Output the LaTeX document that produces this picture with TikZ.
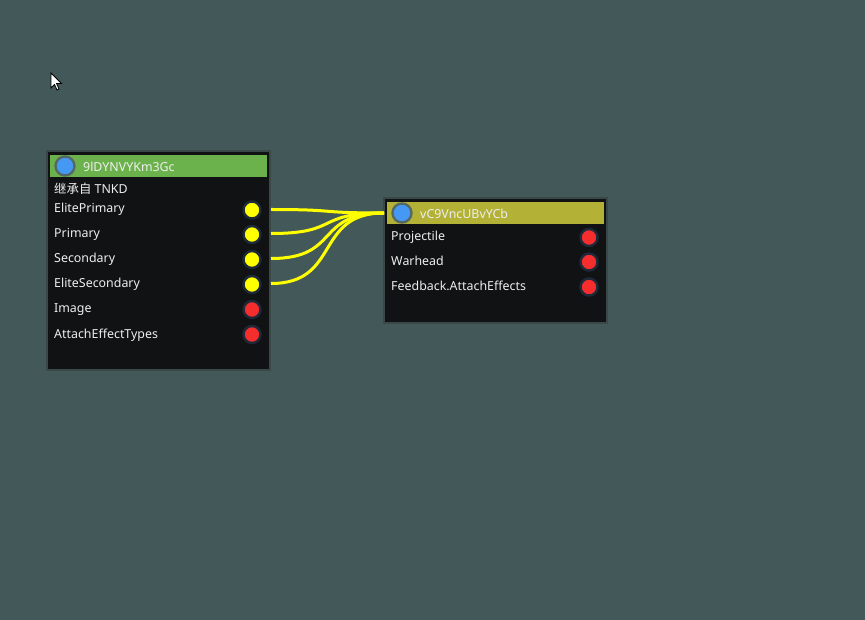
\documentclass[tikz,border=0pt]{standalone}
\usepackage{fontspec}
\setmainfont{Noto Sans}
\newfontfamily\cjk{Noto Sans CJK SC}
\definecolor{bgc}{RGB}{67,89,89}
\definecolor{bodyc}{RGB}{17,18,20}
\definecolor{borderc}{RGB}{58,72,72}
\definecolor{greenh}{RGB}{108,178,76}
\definecolor{oliveh}{RGB}{179,178,54}
\definecolor{bluec}{RGB}{70,152,245}
\definecolor{ringc}{RGB}{84,104,100}
\definecolor{portring}{RGB}{30,42,58}
\definecolor{yellowp}{RGB}{255,255,0}
\definecolor{redp}{RGB}{245,45,45}
\definecolor{txtc}{RGB}{238,238,238}
\tikzset{
  nodebody/.style={fill=bodyc,draw=borderc,line width=2pt},
  lbl/.style={anchor=base west,inner sep=0pt,text=txtc,font=\fontsize{12.4}{14}\selectfont},
  yport/.style={circle,fill=yellowp,draw=portring,line width=2.4pt,minimum size=17pt,inner sep=0pt},
  rport/.style={circle,fill=redp,draw=portring,line width=2.4pt,minimum size=17pt,inner sep=0pt},
  bport/.style={circle,fill=bluec,draw=ringc,line width=2.4pt,minimum size=19pt,inner sep=0pt},
  wire/.style={draw=yellowp,line width=3pt},
}
\begin{document}
\begin{tikzpicture}[x=1pt,y=-1pt]
\useasboundingbox (0,0) rectangle (865,620);
\fill[bgc] (0,0) rectangle (865,620);
% cursor
\draw[fill=white,draw=black,line width=0.8pt,line join=miter]
  (51,73) -- (51,88) -- (54.5,84.5) -- (57,90) -- (59,89) -- (56.5,83.5) -- (61.5,83.5) -- cycle;
% node 1
\path[nodebody] (47,151) rectangle (270,370);
\fill[greenh] (50,155) rectangle (267,177);
\node[bport] (b1) at (65,166) {};
\node[lbl] (t1) at (83,171.5) {9lDYNVYKm3Gc};
\node[lbl] (inh) at (54,193.5) {{\cjk 继承自} TNKD};
\node[lbl] (l1) at (54,213) {ElitePrimary};
\node[lbl] (l2) at (54,238) {Primary};
\node[lbl] (l3) at (54,263) {Secondary};
\node[lbl] (l4) at (54,288) {EliteSecondary};
\node[lbl] (l5) at (54,313) {Image};
\node[lbl] (l6) at (54,338) {AttachEffectTypes};
\node[yport] (p1) at (252,210) {};
\node[yport] (p2) at (252,234.5) {};
\node[yport] (p3) at (252,259.5) {};
\node[yport] (p4) at (252,284.5) {};
\node[rport] (p5) at (252,309.5) {};
\node[rport] (p6) at (252,334.5) {};
% node 2
\path[nodebody] (384,198) rectangle (607,323);
\fill[oliveh] (387,202) rectangle (604,224);
\node[bport] (b2) at (402,213) {};
\node[lbl] (t2) at (420,218.5) {vC9VncUBvYCb};
\node[lbl] (m1) at (391,241) {Projectile};
\node[lbl] (m2) at (391,266) {Warhead};
\node[lbl] (m3) at (391,291) {Feedback.AttachEffects};
\node[rport] (q1) at (589,237.5) {};
\node[rport] (q2) at (589,262) {};
\node[rport] (q3) at (589,287) {};
% wires
\coordinate (s1) at (271,209.5);
\coordinate (s2) at (271,233.5);
\coordinate (s3) at (271,258.5);
\coordinate (s4) at (271,283.5);
\coordinate (e) at (384,213);
\draw[wire] (s1) .. controls +(70,0) and +(-70,0) .. (e);
\draw[wire] (s2) .. controls +(70,0) and +(-70,0) .. (e);
\draw[wire] (s3) .. controls +(70,0) and +(-70,0) .. (e);
\draw[wire] (s4) .. controls +(70,0) and +(-70,0) .. (e);
\end{tikzpicture}
\end{document}
